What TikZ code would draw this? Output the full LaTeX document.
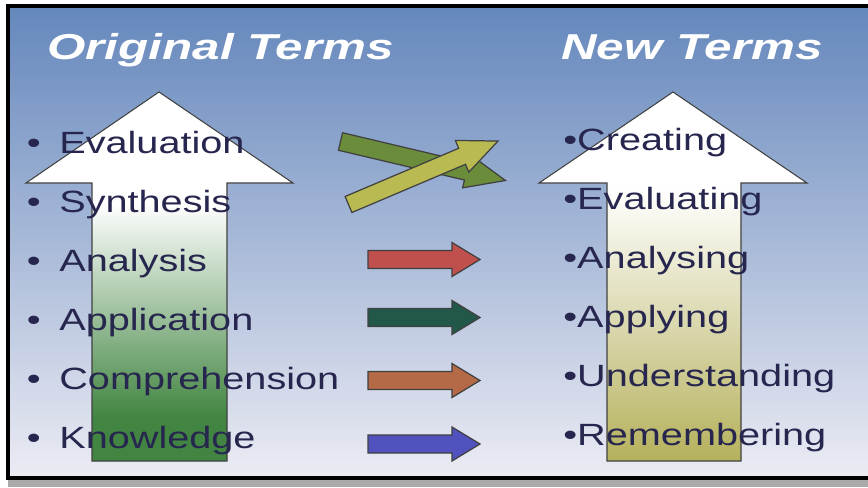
\documentclass[tikz,border=0pt]{standalone}
\usepackage{fontspec}
\usepackage{tikz}

\newfontfamily\titlefont[FakeStretch=1.37]{Liberation Sans}
\newfontfamily\termfont[FakeStretch=1.29]{Liberation Sans}

\definecolor{bgtop}{RGB}{100,135,188}
\definecolor{bgbottom}{RGB}{236,236,244}
\definecolor{shadowgrey}{RGB}{170,170,170}
\definecolor{termnavy}{RGB}{38,38,78}
\definecolor{leafgreen}{RGB}{66,133,66}
\definecolor{olive}{RGB}{181,177,92}
\definecolor{arrowred}{RGB}{192,80,77}
\definecolor{arrowteal}{RGB}{33,88,74}
\definecolor{arrowbrown}{RGB}{180,106,70}
\definecolor{arrowblue}{RGB}{82,82,190}
\definecolor{crossgreen}{RGB}{107,140,58}
\definecolor{crossyellow}{RGB}{185,186,82}

\pgfdeclareverticalshading{greenfade}{100bp}{color(0bp)=(leafgreen); color(31bp)=(leafgreen); color(60bp)=(white); color(100bp)=(white)}
\pgfdeclareverticalshading{olivefade}{100bp}{color(0bp)=(olive); color(25bp)=(olive); color(62bp)=(white); color(100bp)=(white)}

\tikzset{
	bigarrow/.style={draw=black!75, line width=0.6pt},
	flatarrow/.style={draw=black!75, line width=0.7pt},
	heading/.style={anchor=base west, inner sep=0pt, text=white, font=\titlefont\bfseries\itshape\fontsize{20.5}{24}\selectfont},
	oldterm/.style={anchor=base west, inner sep=0pt, text=termnavy, font=\termfont\fontsize{17.5}{21}\selectfont},
	newterm/.style={oldterm}
}

\begin{document}
\begin{tikzpicture}[x=0.02cm, y=-0.02cm]
					% Fix the page to the size of the slide picture
					\useasboundingbox (0,0) rectangle (868,487);
					
					% Draw shadow strip under the slide
					\fill[shadowgrey] (8,480) rectangle (868,487);
					
					% Draw slide background with its black frame
					\draw[line width=0.08cm, top color=bgtop, bottom color=bgbottom] (8,6) rectangle (876,478);
					
					% Draw left big arrow, green fading to white
					\draw[bigarrow, shade, shading=greenfade] (92,461) -- (92,183) -- (26,183) -- (159,92) -- (293,183) -- (227,183) -- (227,461) -- cycle;
					
					% Draw right big arrow, olive fading to white
					\draw[bigarrow, shade, shading=olivefade] (607,461) -- (607,183) -- (539,183) -- (673,92) -- (807,183) -- (741,183) -- (741,461) -- cycle;
					
					% Draw headings
					\node[heading] (origtitle) at (47,59) {Original Terms};
					\node[heading] (newtitle) at (561,59) {New Terms};
					
					% Draw original terms
					\foreach \term [count=\i] in {Evaluation, Synthesis, Analysis, Application, Comprehension, Knowledge}
					\node[oldterm] (old\i) at (59,{153+59*(\i-1)}) {\llap{\textbullet\hspace{10.6pt}}\term};
					
					% Draw new terms
					\foreach \term [count=\i] in {Creating, Evaluating, Analysing, Applying, Understanding, Remembering}
					\node[newterm] (new\i) at (563,{150+59*(\i-1)}) {\textbullet\term};
					
					% Draw crossing arrows for the swapped top levels
					\begin{scope}[shift={(340.5,141.5)}, rotate=-13.3]
					\draw[flatarrow, fill=crossgreen] (0,-9) -- (129.5,-9) -- (129.5,-17) -- (169.5,0) -- (129.5,17) -- (129.5,9) -- (0,9) -- cycle;
					\end{scope}
					\begin{scope}[shift={(348.5,204.5)}, rotate=23]
					\draw[flatarrow, fill=crossyellow] (0,-8.7) -- (123.4,-8.7) -- (123.4,-17.2) -- (162.4,0) -- (123.4,17.2) -- (123.4,8.7) -- (0,8.7) -- cycle;
					\end{scope}
					
					% Draw straight arrows for the other levels
					\foreach \y/\c in {259.5/arrowred, 317.5/arrowteal, 380.5/arrowbrown, 444/arrowblue}
					\draw[flatarrow, fill=\c] (368,\y-9) -- (452,\y-9) -- (452,\y-17) -- (480,\y) -- (452,\y+17) -- (452,\y+9) -- (368,\y+9) -- cycle;
\end{tikzpicture}
\end{document}
